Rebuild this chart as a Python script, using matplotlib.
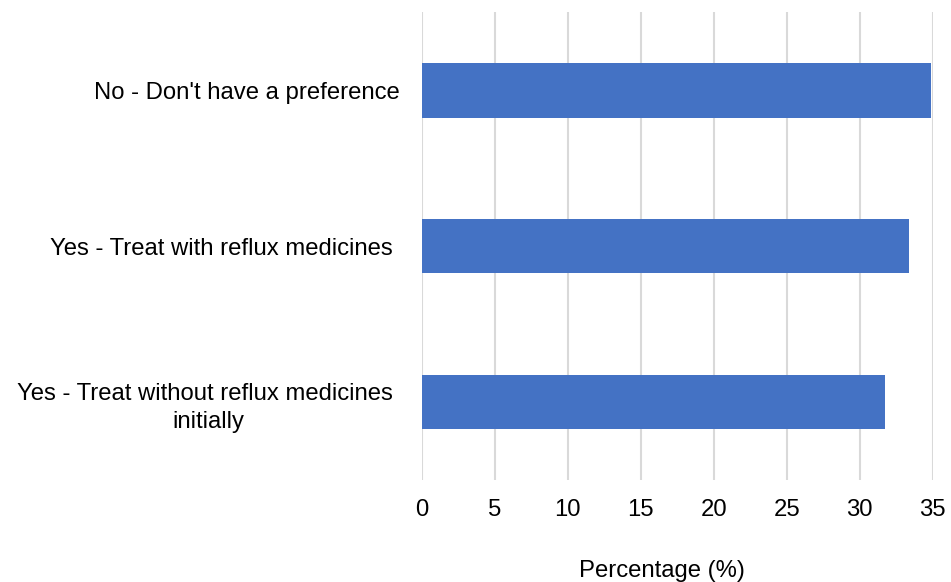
import matplotlib
matplotlib.use("Agg")
import matplotlib.pyplot as plt

plt.rcParams['font.family'] = ['Liberation Sans', 'DejaVu Sans']

categories = [
    "No - Don't have a preference",
    "Yes - Treat with reflux medicines ",
    "Yes - Treat without reflux medicines \ninitially",
]
percentages = [34.9, 33.4, 31.7]
xticks = [0, 5, 10, 15, 20, 25, 30, 35]

fig = plt.figure(figsize=(9.51, 5.82), dpi=100)
ax = fig.add_axes([0.4434, 0.175, 0.5374, 0.804])

ypos = list(range(len(categories)))
ax.barh(ypos, percentages, height=0.35, color='#4472C4', zorder=3)

ax.set_xlim(0, 35)
ax.set_ylim(2.5, -0.5)
ax.set_xticks(xticks)
ax.set_xticklabels([str(t) for t in xticks], fontsize=17.2)
ax.set_yticks(ypos)
ax.set_yticklabels(categories, fontsize=17.2, multialignment='center',
                   linespacing=1.35)
ax.tick_params(axis='both', length=0)
ax.tick_params(axis='y', pad=16)
ax.tick_params(axis='x', pad=13.5)

ax.grid(axis='x', color='#d9d9d9', linewidth=1.5, zorder=0)
for s in ax.spines.values():
    s.set_visible(False)

ax.set_xlabel("Percentage (%)", fontsize=17.2, labelpad=28, x=0.47, ha='center')

fig.savefig("out.png", dpi=100, facecolor='white')
